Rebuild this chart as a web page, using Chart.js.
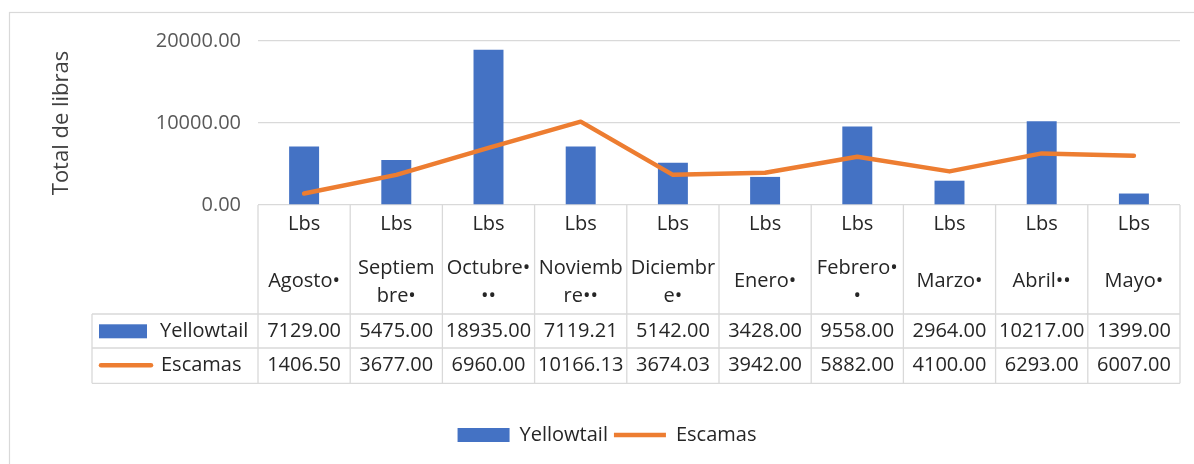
<!DOCTYPE html>
<html><head><meta charset="utf-8">
<script src="https://cdn.jsdelivr.net/npm/chart.js@4"></script>
<style>html,body{margin:0;padding:0;background:#fff}#wrap{width:1194px;height:464px;position:relative}</style>
</head><body><div id="wrap"><canvas id="c" width="1194" height="464"></canvas></div>
<script>
const categories = [['Agosto•'],['Septiem','bre•'],['Octubre•','••'],['Noviemb','re••'],['Diciembr','e•'],['Enero•'],['Febrero•','•'],['Marzo•'],['Abril••'],['Mayo•']];
const unitLabel = 'Lbs';
const yellowtail = [7129.00, 5475.00, 18935.00, 7119.21, 5142.00, 3428.00, 9558.00, 2964.00, 10217.00, 1399.00];
const escamas = [1406.50, 3677.00, 6960.00, 10166.13, 3674.03, 3942.00, 5882.00, 4100.00, 6293.00, 6007.00];
const seriesNames = ['Yellowtail', 'Escamas'];
const yTicks = [0, 10000, 20000];
const yTitle = 'Total de libras';

const FONT = 'Open Sans';
const BLUE = '#4472C4', ORANGE = '#ED7D31', GRID = '#d9d9d9', TXT = '#262626';

const tablePlugin = {
  id: 'dataTable',
  beforeDraw(chart) {
    const ctx = chart.ctx;
    ctx.save();
    ctx.fillStyle = '#fff';
    ctx.fillRect(0, 0, chart.width, chart.height);
    ctx.strokeStyle = GRID;
    ctx.lineWidth = 1.2;
    ctx.strokeRect(9.5, 12.5, 1400, 700);
    ctx.restore();
  },
  afterDraw(chart) {
    const ctx = chart.ctx, xs = chart.scales.x, area = chart.chartArea;
    const n = categories.length;
    const colW = xs.getPixelForValue(1) - xs.getPixelForValue(0);
    const top = area.bottom;
    const headBottom = top + 109;
    const row1 = headBottom + 34;
    const bottom = row1 + 35.3;
    const labelLeft = 92;
    const leftEdge = xs.getPixelForValue(0) - colW / 2;
    const rightEdge = xs.getPixelForValue(n - 1) + colW / 2;
    ctx.save();
    ctx.strokeStyle = GRID;
    ctx.lineWidth = 1.3;
    ctx.beginPath();
    for (let i = 0; i <= n; i++) {
      const x = leftEdge + i * colW;
      ctx.moveTo(x, top); ctx.lineTo(x, bottom);
    }
    ctx.moveTo(labelLeft, headBottom); ctx.lineTo(labelLeft, bottom);
    [headBottom, row1, bottom].forEach(y => { ctx.moveTo(labelLeft, y); ctx.lineTo(rightEdge, y); });
    ctx.stroke();

    ctx.fillStyle = TXT;
    ctx.font = '20px "' + FONT + '"';
    ctx.textAlign = 'center';
    ctx.textBaseline = 'middle';
    categories.forEach((lines, i) => {
      const cx = xs.getPixelForValue(i);
      ctx.fillText(unitLabel, cx, top + 19.5);
      if (lines.length === 1) {
        ctx.fillText(lines[0], cx, top + 76.5);
      } else {
        ctx.fillText(lines[0], cx, top + 63.5);
        ctx.fillText(lines[1], cx, top + 91.5);
      }
      ctx.fillText(yellowtail[i].toFixed(2), cx, (headBottom + row1) / 2);
      ctx.fillText(escamas[i].toFixed(2), cx, (row1 + bottom) / 2);
    });

    // row labels with keys
    ctx.fillStyle = BLUE;
    ctx.fillRect(99, headBottom + 10.3, 48, 14);
    ctx.strokeStyle = ORANGE;
    ctx.lineWidth = 4.5;
    ctx.lineCap = 'round';
    ctx.beginPath();
    ctx.moveTo(101, row1 + 17.3); ctx.lineTo(151, row1 + 17.3);
    ctx.stroke();
    ctx.fillStyle = TXT;
    ctx.textAlign = 'left';
    ctx.fillText(seriesNames[0], 160, (headBottom + row1) / 2);
    ctx.fillText(seriesNames[1], 161, (row1 + bottom) / 2);
    ctx.restore();
  }
};

new Chart(document.getElementById('c'), {
  data: {
    labels: categories.map(c => c.join('')),
    datasets: [
      {type: 'bar', label: seriesNames[0], data: yellowtail, backgroundColor: BLUE, borderWidth: 0,
       barPercentage: 0.325, categoryPercentage: 1, order: 2, pointStyle: 'rect'},
      {type: 'line', label: seriesNames[1], data: escamas, borderColor: ORANGE, backgroundColor: ORANGE,
       borderWidth: 4.5, pointRadius: 0, tension: 0, order: 1, pointStyle: 'line',
       borderCapStyle: 'round', borderJoinStyle: 'round'}
    ]
  },
  options: {
    responsive: false, animation: false, devicePixelRatio: 1,
    layout: {padding: {left: 34, right: 14, top: 41, bottom: 9}},
    plugins: {
      tooltip: {enabled: false},
      legend: {
        position: 'bottom', reverse: true,
        labels: {
          usePointStyle: true, pointStyleWidth: 52, boxHeight: 14, padding: 6,
          color: TXT, font: {family: FONT, size: 20},
          generateLabels(chart) {
            const items = Chart.defaults.plugins.legend.labels.generateLabels(chart);
            items.forEach(it => { it.pointStyle = chart.data.datasets[it.datasetIndex].pointStyle; });
            return items;
          }
        }
      }
    },
    scales: {
      x: {grid: {display: false}, border: {display: false}, ticks: {display: false},
          afterFit(s) { s.height = 214; }},
      y: {min: 0, max: 20000,
          afterBuildTicks(s) { s.ticks = yTicks.map(v => ({value: v})); },
          ticks: {padding: 17, color: '#595959', font: {family: FONT, size: 20},
                  callback: v => Number(v).toFixed(2)},
          grid: {color: GRID, lineWidth: 1.3, drawTicks: false},
          border: {display: false},
          title: {display: true, text: yTitle, color: '#404040', font: {family: FONT, size: 22},
                  padding: {top: 15, bottom: 0}},
          afterFit(s) { s.width = 224; }}
    }
  },
  plugins: [tablePlugin]
});
</script>
</body></html>
